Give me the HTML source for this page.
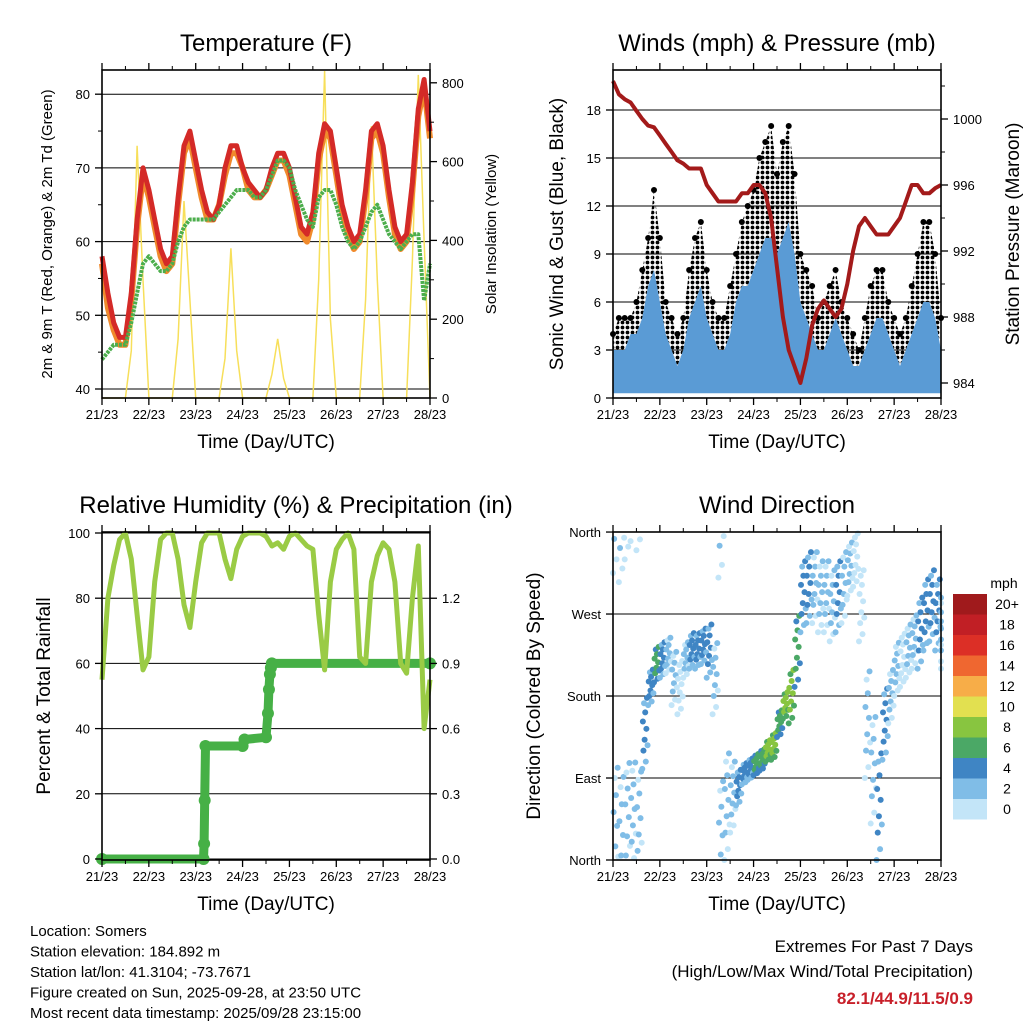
<!DOCTYPE html>
<html><head><meta charset="utf-8">
<style>
html,body{margin:0;padding:0;background:#fff;}
svg{display:block;font-family:"Liberation Sans",sans-serif;}
</style></head>
<body>
<svg id="s" width="1024" height="1024" viewBox="0 0 1024 1024" xmlns="http://www.w3.org/2000/svg">
<defs><pattern id="dots" width="5" height="5" patternUnits="userSpaceOnUse"><circle cx="2.5" cy="2.5" r="1.9" fill="#000"/></pattern></defs>
</svg>
<script>
// ---------- data (3-hourly, t = hours since 21/23) ----------
const tempRed=[58,53,49,47,47,53,63,70,67,63,59,57,58,66,73,75,71,67,64,63,65,70,73,73,70,68,67,66,67,70,72,72,70,66,62,61,64,72,76,75,70,65,62,60,61,67,75,76,73,67,62,60,61,68,78,82,75];
const tempOrange=[57,51,48,46,46,52,62,69,66,62,58,56,57,65,72,74,70,66,63,63,65,69,72,72,70,67,66,66,67,69,71,71,69,65,61,60,63,71,75,74,69,64,61,59,60,66,74,75,72,66,61,59,60,67,77,81,74];
const dewGreen=[44,45,46,46,46,49,53,57,58,57,56,56,57,60,62,63,63,63,63,63,64,65,66,67,67,67,66,66,67,69,71,71,70,67,65,63,62,66,67,67,65,62,60,59,60,62,64,65,63,61,60,59,60,61,61,52,57];
const solar=[0,0,0,0,0,120,640,300,0,0,0,0,0,150,500,250,0,0,0,0,0,100,380,120,0,0,0,0,0,60,150,50,0,0,0,0,0,300,830,200,0,0,0,0,0,250,690,300,0,0,0,0,0,350,820,400,0];
const windSpeed=[3,3,3,4,4,5,7,8,6,4,3,2,3,5,6,7,5,4,3,3,4,6,7,7,8,9,10,10,9,10,11,9,6,5,4,3,3,4,5,4,3,2,2,3,4,5,5,4,3,2,3,4,5,6,6,5,3];
const windGust=[4,5,5,5,6,8,10,13,10,6,5,4,5,8,10,11,8,6,5,5,7,9,11,12,13,15,16,17,14,16,17,14,9,8,7,5,6,7,8,6,5,4,3,5,7,8,8,6,5,4,5,7,9,11,11,9,5];
const pressure=[1002.3,1001.5,1001.2,1001,1000.5,1000,999.6,999.5,999,998.5,998,997.5,997.3,997,997,997,996,995.5,995,995,995,995,995.5,995.5,996,996,995.5,994,991,988,986,985,984,985.5,987.5,988.5,989,988.5,988,988.5,990,992,993.5,994,993.5,993,993,993,993.5,994,995,996,996,995.5,995.5,995.8,996];
const rh=[55,80,90,98,100,92,75,58,62,85,98,100,100,92,78,71,85,97,100,100,100,92,86,95,99,100,100,100,99,96,97,95,99,100,98,96,95,75,58,85,95,98,100,95,62,60,85,93,97,95,85,60,57,80,96,40,55];
const precipTimes=[0,52,52.3,52.6,53,72,73,84,85,85.5,86,86.5,87,168];
const precipVals=[0,0,0.07,0.27,0.52,0.52,0.55,0.56,0.67,0.78,0.85,0.88,0.9,0.9];
const windDir=[30,20,40,50,40,140,190,215,220,225,200,190,220,230,230,235,230,200,20,60,70,80,95,100,105,110,120,125,150,170,180,230,290,300,300,290,290,280,290,300,320,330,280,150,100,60,150,180,210,220,230,240,250,270,280,270,250];
const dirSpread=[75,75,70,60,60,40,20,20,20,20,30,30,20,20,20,20,30,40,70,60,40,20,12,12,12,12,12,15,15,15,30,40,40,40,40,40,40,40,40,40,30,30,40,60,60,60,40,30,30,30,30,30,40,40,40,40,40];
const dayLabels=["21/23","22/23","23/23","24/23","25/23","26/23","27/23","28/23"];
const colorLevels=["0","2","4","6","8","10","12","14","16","18","20+"];
const colorFill=["#c3e5f8","#80bde7","#3f85c4","#4ba866","#88c540","#e2e050","#f7ad48","#ef6730","#dc2f26","#c11f25","#a01a1c"];

const NS="http://www.w3.org/2000/svg";
const svg=document.getElementById('s');
function el(tag,attrs,parent){const e=document.createElementNS(NS,tag);for(const k in attrs)e.setAttribute(k,attrs[k]);(parent||svg).appendChild(e);return e;}
function txt(x,y,s,size,anchor,parent,extra){const e=el('text',Object.assign({x:x,y:y,'font-size':size,'text-anchor':anchor||'middle',fill:'#000'},extra||{}),parent);e.textContent=s;return e;}

function panel(x0,y0,name){
  const g=el('g',{});
  
  
  const P={x0:x0,y0:y0,w:328,h:328,g:g};
  P.x=t=>x0+t/168*328;
  return P;
}
function axes(P,yl,yr,title,ylab,rlab){
  const g=P.g,x0=P.x0,y0=P.y0,w=P.w,h=P.h;
  const b=el('rect',{x:x0,y:y0,width:w,height:h,fill:'none',stroke:'#000','stroke-width':1.6},g);
  
  const xa=el('g',{},g);
  dayLabels.forEach((d,i)=>{const x=P.x(i*24);
    el('line',{x1:x,x2:x,y1:y0+h,y2:y0+h+7,stroke:'#000','stroke-width':1.3},xa);
    el('line',{x1:x,x2:x,y1:y0,y2:y0-7,stroke:'#000','stroke-width':1.3},xa);
    const t=txt(x,y0+h+21,d,13,'middle',xa);
    if(i<7){const xm=P.x(i*24+12);el('line',{x1:xm,x2:xm,y1:y0+h,y2:y0+h+4,stroke:'#000'},xa);el('line',{x1:xm,x2:xm,y1:y0,y2:y0-4,stroke:'#000'},xa);}
  });
  const xt=txt(x0+w/2,y0+h+50,'Time (Day/UTC)',19,'middle',g);
  const ya=el('g',{},g);
  yl.ticks.forEach((v,i)=>{const y=yl.f(v);el('line',{x1:x0,x2:x0-7,y1:y,y2:y,stroke:'#000','stroke-width':1.3},ya);
    const t=txt(x0-12,y+5,yl.lab?yl.lab[i]:String(v),13,'end',ya);});
  (yl.minor||[]).forEach(v=>{const y=yl.f(v);el('line',{x1:x0,x2:x0-4,y1:y,y2:y,stroke:'#000'},ya);});
  if(yr){const ra=el('g',{},g);
    yr.ticks.forEach((v,i)=>{const y=yr.f(v);el('line',{x1:x0+w,x2:x0+w+7,y1:y,y2:y,stroke:'#000','stroke-width':1.3},ra);
      const t=txt(x0+w+12,y+5,yr.lab?yr.lab[i]:String(v),13,'start',ra);});
    (yr.minor||[]).forEach(v=>{const y=yr.f(v);el('line',{x1:x0+w,x2:x0+w+4,y1:y,y2:y,stroke:'#000'},ra);});
  }
  const tt=txt(x0+w/2-(title.dx||0),y0-19,title.s,24,'middle',g);
  const yt=txt(0,0,ylab.s,ylab.size,'middle',g,{transform:`translate(${ylab.x},${y0+h/2}) rotate(-90)`});
  if(rlab){const rt=txt(0,0,rlab.s,rlab.size,'middle',g,{transform:`translate(${rlab.x},${y0+h/2}) rotate(-90)`});}
}
function pts(P,arr,f,tArr){return arr.map((v,i)=>P.x(tArr?tArr[i]:i*3).toFixed(1)+','+f(v).toFixed(1)).join(' ');}

// ---------- Panel 1: Temperature ----------
{
 const P=panel(102,70,'temperature-panel');
 const yT=v=>389-(v-40)*7.37, yS=v=>398-v*0.394;
 const yl={f:yT,ticks:[40,50,60,70,80],minor:[45,55,65,75]};
 const yr={f:yS,ticks:[0,200,400,600,800],minor:[100,300,500,700]};
 yl.ticks.forEach(v=>{const l=el('line',{x1:102,x2:430,y1:yT(v),y2:yT(v),stroke:'#000','stroke-width':1},P.g);});
 const s=el('polyline',{points:pts(P,solar,yS),fill:'none',stroke:'#f7df5a','stroke-width':1.5},P.g);
 
 const o=el('polyline',{points:pts(P,tempOrange,yT),fill:'none',stroke:'#f08a2c','stroke-width':6,'stroke-linejoin':'round'},P.g);
 
 const r=el('polyline',{points:pts(P,tempRed,yT),fill:'none',stroke:'#d42a27','stroke-width':5,'stroke-linejoin':'round'},P.g);
 
 const d=el('polyline',{points:pts(P,dewGreen,yT),fill:'none',stroke:'#4cae4c','stroke-width':4,'stroke-dasharray':'3 1','stroke-linejoin':'round'},P.g);
 
 axes(P,yl,yr,{s:'Temperature (F)'},{s:'2m & 9m T (Red, Orange) & 2m Td (Green)',size:15,x:52},{s:'Solar Insolation (Yellow)',size:15,x:496});
}
// ---------- Panel 2: Winds ----------
{
 const P=panel(613,70,'winds-pressure-panel');
 const yW=v=>398-v*16, yP=v=>383-(v-984)*16.5;
 const yl={f:yW,ticks:[0,3,6,9,12,15,18]};
 const yr={f:yP,ticks:[984,988,992,996,1000],minor:[986,990,994,998,1002]};
 yl.ticks.forEach(v=>{const l=el('line',{x1:613,x2:941,y1:yW(v),y2:yW(v),stroke:'#000'},P.g);});
 const top=windGust.map((v,i)=>P.x(i*3)+','+yW(v)).join(' ');
 const mid=windSpeed.slice().reverse().map((v,i)=>P.x((windSpeed.length-1-i)*3)+','+yW(v)).join(' ');
 const gb=el('polygon',{points:top+' '+mid,fill:'url(#dots)'},P.g);
 
 windGust.forEach((v,i)=>{const c=el('circle',{cx:P.x(i*3),cy:yW(v),r:3,fill:'#000'},P.g);
   });
 const sp=windSpeed.map((v,i)=>P.x(i*3)+','+yW(v)).join(' ')+' '+P.x(168)+','+yW(0.3)+' '+P.x(0)+','+yW(0.3);
 const sb=el('polygon',{points:sp,fill:'#5a9bd5'},P.g);
 
 const pl=el('polyline',{points:pts(P,pressure,yP),fill:'none',stroke:'#a31a1a','stroke-width':4,'stroke-linejoin':'round'},P.g);
 
 axes(P,yl,yr,{s:'Winds (mph) & Pressure (mb)'},{s:'Sonic Wind & Gust (Blue, Black)',size:19,x:563},{s:'Station Pressure (Maroon)',size:19,x:1019});
}
// ---------- Panel 3: RH & Precip ----------
{
 const P=panel(102,532,'humidity-precip-panel');
 const yR=v=>859-v*3.26, yQ=v=>859-v*217.3;
 const yl={f:yR,ticks:[0,20,40,60,80,100]};
 const yr={f:yQ,ticks:[0,0.3,0.6,0.9,1.2],lab:['0.0','0.3','0.6','0.9','1.2']};
 yl.ticks.forEach(v=>{const l=el('line',{x1:102,x2:430,y1:yR(v),y2:yR(v),stroke:'#000'},P.g);});
 const q=el('polyline',{points:pts(P,precipVals,yQ,precipTimes),fill:'none',stroke:'#46b046','stroke-width':9,'stroke-linecap':'round'},P.g);
 
 precipVals.forEach((v,i)=>{const c=el('circle',{cx:P.x(precipTimes[i]),cy:yQ(v),r:6,fill:'#46b046'},P.g);
   });
 const h=el('polyline',{points:pts(P,rh,yR),fill:'none',stroke:'#9acb45','stroke-width':5,'stroke-linejoin':'round'},P.g);
 
 axes(P,yl,yr,{s:'Relative Humidity (%) & Precipitation (in)',dx:-30},{s:'Percent & Total Rainfall',size:19,x:50},null);
}
// ---------- Panel 4: Wind Direction ----------
{
 const P=panel(613,532,'wind-direction-panel');
 const yD=v=>860-v*0.911;
 const yl={f:yD,ticks:[0,90,180,270,360],lab:['North','East','South','West','North']};
 yl.ticks.forEach(v=>{const l=el('line',{x1:613,x2:941,y1:yD(v),y2:yD(v),stroke:'#000'},P.g);});
 const offs=[-1,0.3,-0.5,0.8,-0.2,0.55,-0.8,0.1,0.95,-0.35];
 windDir.forEach((d,i)=>{
   const ci=Math.min(10,Math.floor(windSpeed[i]*0.8/2));
   offs.forEach((o,j)=>{
     let v=d+dirSpread[i]*o; if(v<0)v+=360; if(v>360)v-=360;
     const t=Math.min(168,i*3+j*0.3);
     const c=el('circle',{cx:P.x(t),cy:yD(v),r:3,fill:colorFill[Math.max(0,ci-(j%3===0?1:0))]},P.g);
     
   });
 });
 axes(P,yl,null,{s:'Wind Direction'},{s:'Direction (Colored By Speed)',size:19,x:540},null);
 const cb=el('g',{});
 const m=txt(1004,588,'mph',14,'middle',cb);
 colorLevels.forEach((lab,i)=>{const y=799-i*20.5;
   const r=el('rect',{x:953,y:y,width:34,height:20.5,fill:colorFill[i]},cb);
   const t=txt(1007,y+15,lab,14,'middle',cb);});
}
// ---------- footer ----------
const foot=el('g',{});
["Location: Somers","Station elevation: 184.892 m","Station lat/lon: 41.3104; -73.7671","Figure created on Sun, 2025-09-28, at 23:50 UTC","Most recent data timestamp: 2025/09/28 23:15:00"].forEach((s,i)=>{
  const t=txt(30,936+i*20.5,s,15,'start',foot);});
const ex=el('g',{});
const e1=txt(973,952,'Extremes For Past 7 Days',17,'end',ex);
const e2=txt(973,977,'(High/Low/Max Wind/Total Precipitation)',17,'end',ex);
const e3=txt(973,1004,'82.1/44.9/11.5/0.9',17,'end',ex,{fill:'#c8202a','font-weight':'bold'});
</script>
</body></html>
